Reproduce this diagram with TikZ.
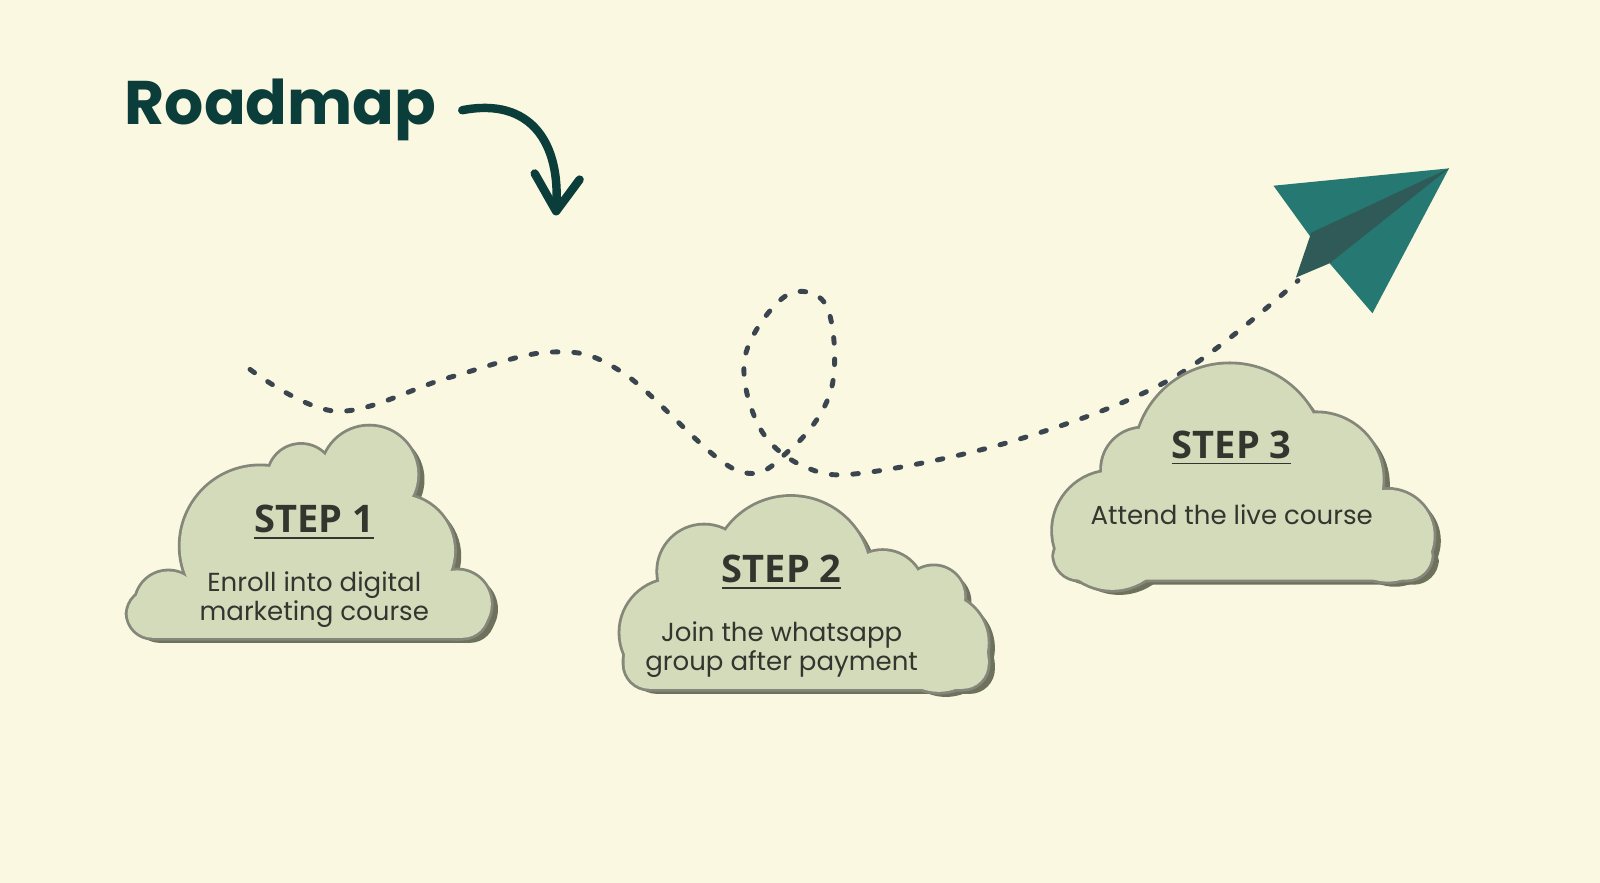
\documentclass[tikz,border=0pt]{standalone}
\usepackage{fontspec}
\setmainfont{Poppins}
\newfontfamily\stepfont{Open Sans}
\usetikzlibrary{positioning}
\definecolor{bgcol}{HTML}{FAF8E1}
\definecolor{titlecol}{HTML}{0B3D3A}
\definecolor{cloudfill}{HTML}{D3DBBA}
\definecolor{cloudline}{HTML}{85877A}
\definecolor{cloudshade}{HTML}{6E715C}
\definecolor{plainteal}{HTML}{267873}
\definecolor{foldteal}{HTML}{2F5A57}
\definecolor{dotcol}{HTML}{3A4550}
\definecolor{textcol}{HTML}{33362F}
\tikzset{
  steptitle/.style={font=\stepfont\bfseries\fontsize{10.8}{13}\selectfont, text=textcol},
  stepbody/.style={font=\fontsize{7.4}{8.2}\selectfont, text=textcol, align=center},
}
% cloud = circles + rounded base + core
\newcommand{\drawcloud}[3]{%
  \begin{scope}[shift={(7,5)}]
    \fill[cloudshade,rounded corners=0.25cm] #2;
    \fill[cloudshade] #3;
    \foreach \cx/\cy/\r in {#1} \fill[cloudshade] (\cx,\cy) circle[radius=\r];
  \end{scope}
  \draw[cloudline,line width=1.6pt,rounded corners=0.25cm] #2;
  \foreach \cx/\cy/\r in {#1} \draw[cloudline,line width=1.6pt] (\cx,\cy) circle[radius=\r];
  \fill[cloudfill,rounded corners=0.25cm] #2;
  \fill[cloudfill] #3;
  \foreach \cx/\cy/\r in {#1} \fill[cloudfill] (\cx,\cy) circle[radius=\r];
}
\begin{document}
\begin{tikzpicture}[x=0.0102cm,y=-0.0102cm]
\fill[bgcol] (0,0) rectangle (1568,865);
\useasboundingbox (0,0) rectangle (1568,865);
% title and curved arrow
\node[anchor=west, text=titlecol, font=\bfseries\fontsize{17.5}{20}\selectfont] (title) at (110,108) {Roadmap};
\draw[titlecol, line width=2.4pt, line cap=round] (453,108) .. controls (520,95) and (550,140) .. (545,205);
\draw[titlecol, line width=2.4pt, line cap=round, line join=round] (524,170) -- (545,207) -- (568,176);
% dotted route
\draw[dotcol, line width=1.4pt, dash pattern=on 1.6pt off 4.5pt, line cap=round]
  plot[smooth, tension=.6] coordinates {(245,362) (330,403) (440,370) (540,345) (610,365) (720,460) (775,440) (815,380) (810,300) (770,290) (730,350) (745,420) (790,458) (850,463) (1000,430) (1150,370) (1272,275)};
% plane
\fill[plainteal] (1248,182) -- (1420,165) -- (1345,307) -- (1303,258) -- cycle;
\fill[foldteal] (1285,228) -- (1420,165) -- (1303,258) -- (1270,272) -- cycle;
% clouds
\drawcloud{165/592/32, 255/535/78, 295/468/32, 362/465/47, 390/540/55, 448/592/33}{(125,578) rectangle (478,625)}{(255,535) -- (295,468) -- (362,465) -- (390,540) -- (448,592) -- (165,592) -- cycle}
\drawcloud{660/620/52, 690/560/45, 775/565/78, 865/580/40, 915/585/30, 920/630/48}{(612,622) rectangle (968,675)}{(660,620) -- (690,560) -- (775,565) -- (865,580) -- (915,585) -- (920,630) -- cycle}
\drawcloud{1090/520/58, 1120/460/40, 1205/450/93, 1290/470/65, 1360/525/45}{(1033,522) rectangle (1403,568)}{(1090,520) -- (1120,460) -- (1205,450) -- (1290,470) -- (1360,525) -- cycle}
% texts
\node[steptitle] (s1) at (308,512) {\underline{STEP 1}};
\node[stepbody, below=2pt of s1] (b1) {Enroll into digital\\marketing course};
\node[steptitle] (s2) at (766,561) {\underline{STEP 2}};
\node[stepbody, below=2pt of s2] (b2) {Join the whatsapp\\group after payment};
\node[steptitle] (s3) at (1207,439) {\underline{STEP 3}};
\node[stepbody, below=4pt of s3] (b3) {Attend the live course};
\end{tikzpicture}
\end{document}
